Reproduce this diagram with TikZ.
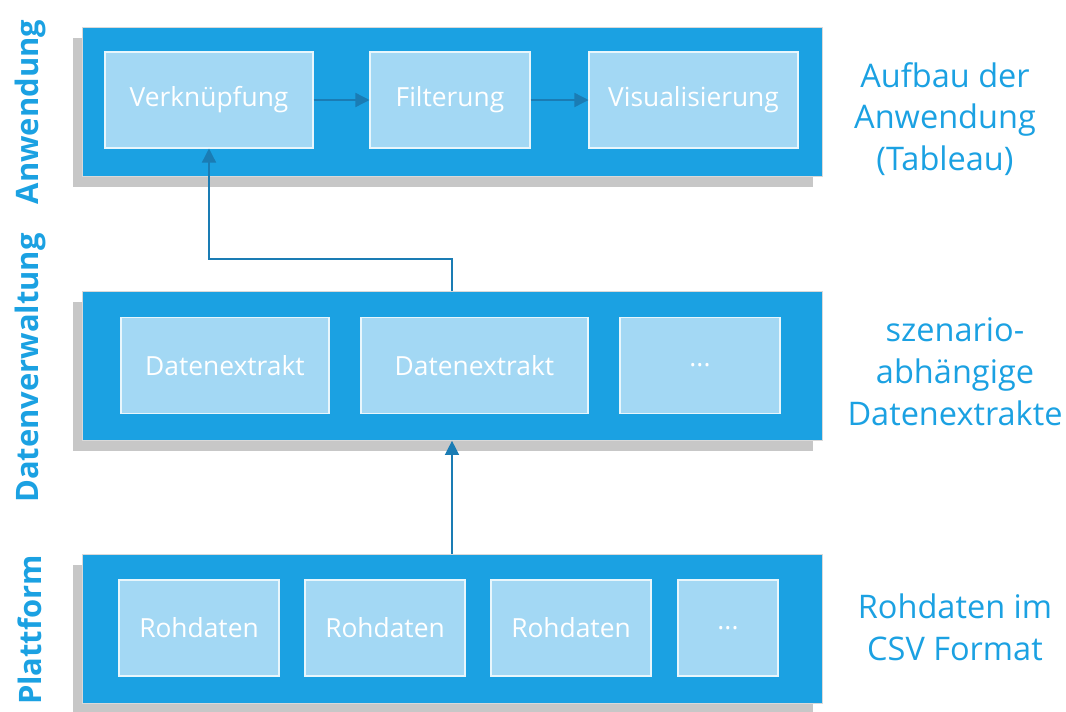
\documentclass[tikz,border=0pt]{standalone}
\usepackage{fontspec}
\setmainfont{Open Sans}
\usepackage{tikz}
\usetikzlibrary{arrows.meta,shadows}
\usepackage{xcolor}
\definecolor{bandblue}{HTML}{1BA1E2}
\definecolor{boxblue}{HTML}{A3D8F4}
\definecolor{arrowblue}{HTML}{1A7CB4}

\begin{document}
\begin{tikzpicture}[x=0.02cm, y=-0.02cm,
  band/.style={fill=bandblue, draw=white!85!black, line width=0.4pt,
    minimum width=14.8cm, minimum height=2.98cm,
    drop shadow={shadow xshift=-5pt, shadow yshift=-6pt, fill=black, opacity=0.22}},
  item/.style={fill=boxblue, draw=white!90!bandblue, line width=0.6pt,
    text=white, font=\fontsize{15}{18}\selectfont, minimum height=1.92cm},
  layer/.style={rotate=90, text=bandblue, font=\fontsize{17.6}{21}\selectfont\bfseries},
  note/.style={text=bandblue, align=center, font=\fontsize{18.5}{23.8}\selectfont},
  arr/.style={arrowblue, line width=0.8pt, -{Triangle[width=8pt,length=8pt]}}]
\useasboundingbox (0,0) rectangle (1066,711);
% layers
\node[band] (app) at (452,102) {};
\node[band] (mid) at (452,366) {};
\node[band] (bot) at (452,629) {};
% application
\node[item, minimum width=4.16cm] (verk) at (209,100) {Verknüpfung};
\node[item, minimum width=3.2cm] (filt) at (450,100) {Filterung};
\node[item, minimum width=4.18cm] (visu) at (693.5,100) {Visualisierung};
% data extracts
\node[item, minimum width=4.16cm] (ext1) at (225,365.5) {Datenextrakt};
\node[item, minimum width=4.54cm] (ext2) at (474.5,365.5) {Datenextrakt};
\node[item, minimum width=3.2cm] (ext3) at (700,365.5) {...};
% raw data
\foreach \i/\x in {1/199, 2/385, 3/571}
    \node[item, minimum width=3.2cm] (raw\i) at (\x,628) {Rohdaten};
\node[item, minimum width=2cm] (raw4) at (728,628) {...};
% connectors
\draw[arr] (verk) -- (filt);
\draw[arr] (filt) -- (visu);
\draw[arr] (mid.north) -- ++(0,-32) -| (verk.south);
\draw[arr] (bot.north) -- (mid.south);
% labels
\node[layer] (lapp) at (30,112) {Anwendung};
\node[layer] (lmid) at (30,368) {Datenverwaltung};
\node[layer] (lbot) at (30,630) {Plattform};
\node[note] (napp) at (945,119) {Aufbau der\\Anwendung\\(Tableau)};
\node[note] (nmid) at (955,372) {szenario-\\abhängige\\Datenextrakte};
\node[note] (nbot) at (955,627) {Rohdaten im\\CSV Format};
\end{tikzpicture}
\end{document}
